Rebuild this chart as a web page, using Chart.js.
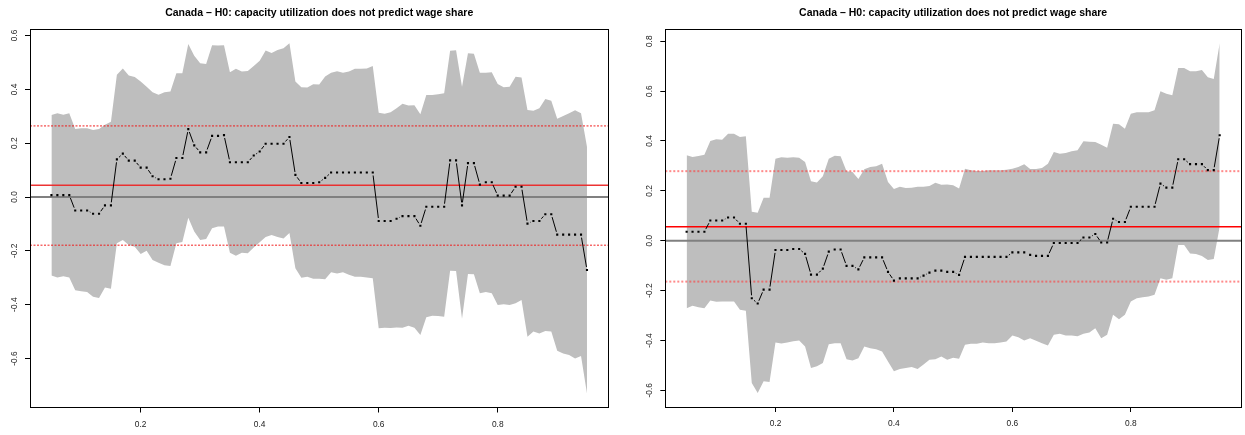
<!DOCTYPE html>
<html>
<head>
<meta charset="utf-8">
<script src="https://cdn.jsdelivr.net/npm/chart.js@4.4.1/dist/chart.umd.min.js"></script>
<style>
html,body{margin:0;padding:0;background:#fff;width:1245px;height:435px;overflow:hidden;}
.panel{position:absolute;top:0;height:435px;}
</style>
</head>
<body>
<div class="panel" style="left:0px;width:622px"><canvas id="c1" width="622" height="435"></canvas></div>
<div class="panel" style="left:623px;width:622px"><canvas id="c2" width="622" height="435"></canvas></div>
<script>
// ---------------- DATA ----------------
const quantiles = [0.05,0.06,0.07,0.08,0.09,0.10,0.11,0.12,0.13,0.14,0.15,0.16,0.17,0.18,0.19,0.20,
  0.21,0.22,0.23,0.24,0.25,0.26,0.27,0.28,0.29,0.30,0.31,0.32,0.33,0.34,0.35,0.36,0.37,0.38,0.39,0.40,
  0.41,0.42,0.43,0.44,0.45,0.46,0.47,0.48,0.49,0.50,0.51,0.52,0.53,0.54,0.55,0.56,0.57,0.58,0.59,0.60,
  0.61,0.62,0.63,0.64,0.65,0.66,0.67,0.68,0.69,0.70,0.71,0.72,0.73,0.74,0.75,0.76,0.77,0.78,0.79,0.80,
  0.81,0.82,0.83,0.84,0.85,0.86,0.87,0.88,0.89,0.90,0.91,0.92,0.93,0.94,0.95];

const titleText = 'Canada \u2013 H0: capacity utilization does not predict wage share';

// left panel
const leftCoef = [0.007,0.007,0.007,0.007,-0.050,-0.050,-0.050,-0.062,-0.062,-0.031,-0.031,0.140,0.161,0.135,0.135,
  0.109,0.109,0.077,0.066,0.066,0.068,0.145,0.145,0.252,0.192,0.166,0.166,0.227,0.227,0.230,
  0.129,0.129,0.129,0.129,0.154,0.169,0.198,0.198,0.198,0.198,0.223,0.082,0.052,0.052,0.052,0.055,0.071,
  0.091,0.091,0.091,0.091,0.091,0.091,0.091,0.091,-0.089,-0.089,-0.089,-0.081,-0.071,-0.071,-0.071,-0.107,
  -0.036,-0.036,-0.036,-0.036,0.136,0.136,-0.031,0.126,0.126,0.046,0.055,0.055,0.005,0.005,0.005,0.038,0.038,
  -0.099,-0.089,-0.089,-0.064,-0.064,-0.140,-0.140,-0.140,-0.140,-0.140,-0.271];
const leftUpper = [0.305,0.311,0.306,0.311,0.253,0.255,0.255,0.249,0.253,0.268,0.280,0.454,0.477,0.451,0.446,
  0.429,0.410,0.389,0.380,0.389,0.392,0.460,0.460,0.568,0.525,0.497,0.494,0.564,0.563,0.564,
  0.463,0.476,0.466,0.468,0.487,0.506,0.544,0.535,0.546,0.553,0.571,0.429,0.408,0.407,0.419,
  0.418,0.448,0.462,0.467,0.462,0.466,0.476,0.476,0.477,0.487,0.313,0.309,0.315,0.330,0.346,
  0.340,0.341,0.307,0.379,0.379,0.382,0.385,0.543,0.545,0.410,0.534,0.532,0.462,0.462,0.463,
  0.420,0.408,0.410,0.447,0.444,0.323,0.320,0.330,0.364,0.358,0.291,0.301,0.311,0.322,0.311,0.187];
const leftLower = [-0.292,-0.299,-0.294,-0.299,-0.346,-0.350,-0.353,-0.371,-0.375,-0.336,-0.341,-0.172,-0.160,-0.178,-0.185,
  -0.212,-0.200,-0.234,-0.244,-0.254,-0.256,-0.172,-0.167,-0.077,-0.128,-0.160,-0.156,-0.116,-0.110,-0.110,
  -0.207,-0.218,-0.207,-0.209,-0.188,-0.168,-0.149,-0.141,-0.149,-0.154,-0.134,-0.265,-0.300,-0.296,-0.304,
  -0.304,-0.306,-0.280,-0.284,-0.280,-0.289,-0.296,-0.296,-0.299,-0.302,-0.488,-0.486,-0.487,-0.485,-0.486,
  -0.478,-0.486,-0.513,-0.447,-0.441,-0.442,-0.445,-0.274,-0.275,-0.452,-0.286,-0.287,-0.358,-0.353,-0.358,
  -0.401,-0.398,-0.401,-0.395,-0.383,-0.519,-0.500,-0.507,-0.498,-0.500,-0.571,-0.581,-0.587,-0.600,-0.591,-0.730];
const leftRefLines = [0.0435, 0.264, -0.179];   // mean, upper quantile, lower quantile
const leftYTicks = [-0.6,-0.4,-0.2,0,0.2,0.4,0.6];
const leftYRange = [-0.782, 0.623];

// right panel
const rightCoef = [0.036,0.036,0.036,0.036,0.081,0.081,0.081,0.093,0.093,0.068,0.068,-0.231,-0.252,-0.196,-0.196,
  -0.037,-0.037,-0.037,-0.033,-0.033,-0.053,-0.136,-0.136,-0.112,-0.044,-0.035,-0.035,-0.101,-0.101,-0.115,
  -0.067,-0.067,-0.067,-0.067,-0.125,-0.160,-0.151,-0.151,-0.151,-0.151,-0.140,-0.128,-0.120,-0.120,-0.125,-0.125,-0.137,
  -0.065,-0.065,-0.065,-0.065,-0.065,-0.065,-0.065,-0.065,-0.047,-0.047,-0.047,-0.057,-0.061,-0.061,-0.061,
  -0.009,-0.009,-0.009,-0.009,-0.009,0.013,0.013,0.027,-0.007,-0.007,0.088,0.075,0.075,
  0.136,0.136,0.136,0.136,0.136,0.229,0.213,0.213,0.327,0.327,0.307,0.307,0.307,0.283,0.283,0.423];
const rightUpper = [0.343,0.336,0.340,0.345,0.400,0.407,0.405,0.429,0.429,0.416,0.419,0.116,0.112,0.172,0.172,
  0.329,0.335,0.333,0.335,0.333,0.316,0.239,0.233,0.259,0.329,0.341,0.339,0.279,0.276,0.248,
  0.287,0.296,0.299,0.309,0.236,0.207,0.216,0.211,0.212,0.216,0.216,0.219,0.232,0.224,0.225,
  0.222,0.209,0.289,0.283,0.280,0.280,0.283,0.283,0.283,0.285,0.289,0.296,0.307,0.288,0.288,
  0.292,0.309,0.356,0.349,0.352,0.359,0.363,0.399,0.397,0.396,0.385,0.373,0.469,0.467,0.449,
  0.509,0.515,0.515,0.515,0.523,0.600,0.589,0.583,0.693,0.693,0.680,0.680,0.685,0.656,0.649,0.792];
const rightLower = [-0.271,-0.261,-0.267,-0.271,-0.240,-0.245,-0.244,-0.244,-0.244,-0.277,-0.281,-0.571,-0.611,-0.564,-0.567,
  -0.408,-0.412,-0.408,-0.403,-0.400,-0.424,-0.511,-0.504,-0.491,-0.415,-0.411,-0.411,-0.475,-0.480,-0.471,
  -0.424,-0.431,-0.435,-0.444,-0.484,-0.524,-0.515,-0.511,-0.507,-0.515,-0.497,-0.477,-0.475,-0.464,-0.477,
  -0.469,-0.473,-0.417,-0.413,-0.413,-0.408,-0.411,-0.411,-0.408,-0.404,-0.380,-0.387,-0.400,-0.391,-0.401,
  -0.411,-0.420,-0.377,-0.373,-0.380,-0.380,-0.383,-0.373,-0.368,-0.351,-0.391,-0.377,-0.297,-0.315,-0.297,
  -0.244,-0.231,-0.227,-0.224,-0.217,-0.151,-0.157,-0.151,-0.017,-0.017,-0.051,-0.053,-0.061,-0.077,-0.073,0.056];
const rightRefLines = [0.056, 0.279, -0.164];
const rightYTicks = [-0.6,-0.4,-0.2,0,0.2,0.4,0.6,0.8];
const rightYRange = [-0.667, 0.848];

const xTicks = [0.2,0.4,0.6,0.8];
const xRange = [0.014, 0.986];

// ---------------- CHART ----------------
const GAP = 3;
function segLen(ctx){ return Math.hypot(ctx.p1.x - ctx.p0.x, ctx.p1.y - ctx.p0.y); }

const boxPlugin = {
  id: 'box',
  afterDraw(chart){
    const a = chart.chartArea, c = chart.ctx;
    c.save(); c.strokeStyle = '#000'; c.lineWidth = 1;
    c.strokeRect(Math.round(a.left)+0.5, Math.round(a.top)+0.5, Math.round(a.right-a.left), Math.round(a.bottom-a.top));
    c.restore();
  }
};

function fmt(v){ return (v < 0 ? '-' : '') + Math.abs(v).toFixed(1); }
function pts(arr){ return quantiles.map((q,i) => ({x:q, y:arr[i]})); }
function hline(v){ return [{x:xRange[0], y:v},{x:xRange[1], y:v}]; }

function makeChart(id, coef, upper, lower, ref, yTicks, yRange, L, st){
  new Chart(document.getElementById(id), {
    type: 'line',
    data: { datasets: [
      { data: pts(coef), borderColor:'#000', borderWidth:1, pointRadius:1.5, pointStyle:'rect',
        pointBackgroundColor:'#000', pointBorderWidth:0, tension:0, fill:false, order:0,
        segment: {
          borderColor: ctx => segLen(ctx) <= 2*GAP + 0.5 ? 'rgba(0,0,0,0)' : '#000',
          borderDash: ctx => { const l = segLen(ctx); return l > 2*GAP + 0.5 ? [0, GAP, l - 2*GAP, GAP] : undefined; }
        } },
      { data: hline(ref[0]), borderColor: st.meanColor, borderWidth: st.meanWidth, pointRadius:0, fill:false, order:1 },
      { data: hline(ref[1]), borderColor: st.qColor, borderWidth: st.qWidth, borderDash: st.qDash, pointRadius:0, fill:false, order:2 },
      { data: hline(ref[2]), borderColor: st.qColor, borderWidth: st.qWidth, borderDash: st.qDash, pointRadius:0, fill:false, order:3 },
      { data: hline(0), borderColor:'rgb(128,128,128)', borderWidth:2, pointRadius:0, fill:false, order:4 },
      { data: pts(upper), borderColor:'rgba(0,0,0,0)', borderWidth:1, pointRadius:0, tension:0,
        fill:{target:'+1'}, backgroundColor:'#bebebe', order:5 },
      { data: pts(lower), borderColor:'rgba(0,0,0,0)', borderWidth:1, pointRadius:0, tension:0, fill:false, order:6 }
    ]},
    options: {
      responsive:false, animation:false, devicePixelRatio:1,
      layout: { padding: { left:0, right:L.right, top:0, bottom:0 } },
      plugins: {
        legend: { display:false }, tooltip: { enabled:false },
        title: { display:true, text:titleText, fullSize:false, color:'#000',
          font:{ family:'Liberation Sans', size:10.5, weight:'bold', lineHeight:1.2 },
          padding:{ top:7, bottom:9.7 } }
      },
      scales: {
        x: { type:'linear', min:xRange[0], max:xRange[1],
          afterBuildTicks: s => { s.ticks = xTicks.map(v => ({value:v})); },
          afterFit: s => { s.height = L.bottom; },
          grid: { display:true, drawOnChartArea:false, drawTicks:true, tickLength:5, color:'#000', lineWidth:1 },
          border: { display:false },
          ticks: { callback: v => fmt(v), color:'#222', padding:6.8, maxRotation:0, autoSkip:false,
            font:{ family:'Liberation Sans', size:8.4 } } },
        y: { type:'linear', min:yRange[0], max:yRange[1],
          afterBuildTicks: s => { s.ticks = yTicks.map(v => ({value:v})); },
          afterFit: s => { s.width = L.left; },
          grid: { display:true, drawOnChartArea:false, drawTicks:true, tickLength:5, color:'#000', lineWidth:1 },
          border: { display:false },
          ticks: { callback: v => fmt(v), color:'#222', padding:L.ypad, minRotation:90, maxRotation:90,
            crossAlign:'center', autoSkip:false, font:{ family:'Liberation Sans', size:8.4 } } }
      }
    },
    plugins: [boxPlugin]
  });
}

makeChart('c1', leftCoef, leftUpper, leftLower, leftRefLines, leftYTicks, leftYRange,
  { left:30, right:13.6, bottom:27.5, ypad:2.8 },
  { meanColor:'rgba(235,40,40,0.95)', meanWidth:1.5, qColor:'rgba(240,20,20,0.95)', qWidth:1, qDash:[2,1.5] });
makeChart('c2', rightCoef, rightUpper, rightLower, rightRefLines, rightYTicks, rightYRange,
  { left:42.3, right:2.9, bottom:28, ypad:3.8 },
  { meanColor:'#ff0000', meanWidth:1.5, qColor:'rgba(255,60,60,0.6)', qWidth:2, qDash:[2,2] });
</script>
</body>
</html>
